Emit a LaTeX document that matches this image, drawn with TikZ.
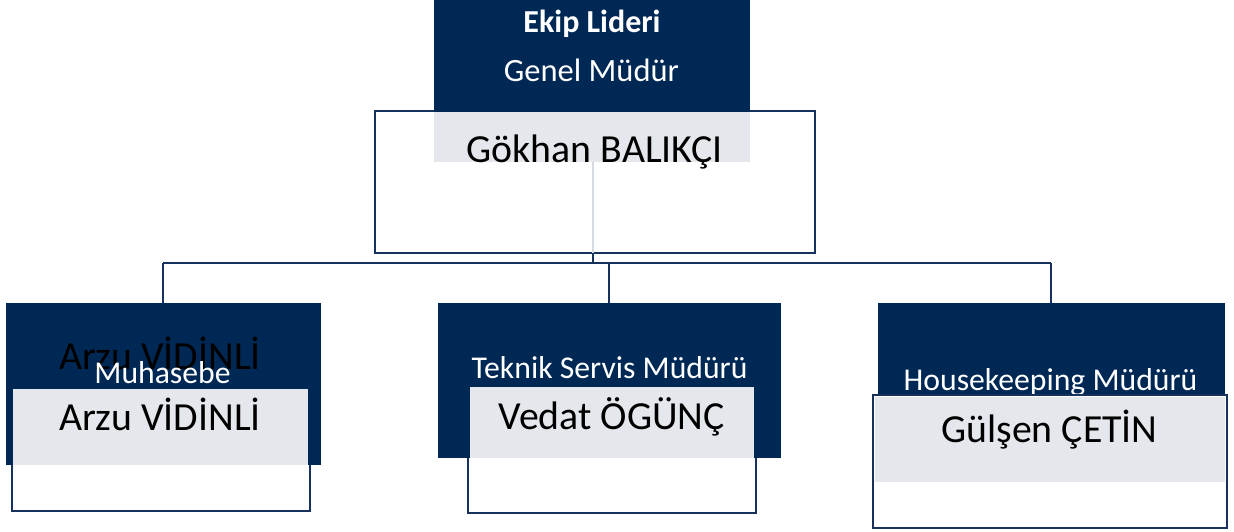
\documentclass[tikz,border=0pt]{standalone}
\usepackage{fontspec}
\setmainfont{Carlito}
\definecolor{navy}{RGB}{0,40,85}
\definecolor{paleg}{RGB}{228,231,236}
\definecolor{edge}{RGB}{22,50,92}
\definecolor{lgline}{RGB}{214,219,226}
\begin{document}
\begin{tikzpicture}[x=1pt,y=-1pt,
  darkbox/.style={fill=navy,draw=none,inner sep=0,outer sep=0,anchor=north west},
  greybox/.style={fill=paleg,draw=none,inner sep=0,outer sep=0,anchor=north west},
  outbox/.style={fill=white,draw=edge,line width=2.5pt,inner sep=0,outer sep=0,anchor=north west},
  titletext/.style={text=white,font=\fontsize{31.7}{31.7}\selectfont,anchor=base,inner sep=0},
  nametext/.style={text=black,font=\fontsize{39.8}{39.8}\selectfont,anchor=base,inner sep=0},
  conn/.style={draw=edge,line width=2.2pt},
  softline/.style={draw=lgline,line width=2.2pt}]
\useasboundingbox (0,0) rectangle (1234,532);
% ---------- top ----------
\node[outbox,minimum width=440pt,minimum height=142pt] (topout) at (375,111) {};
\node[darkbox,minimum width=316pt,minimum height=112pt] (topdark) at (434,0) {};
\node[greybox,minimum width=316pt,minimum height=50pt] (topgrey) at (434,112) {};
\node[text=white,font=\bfseries\fontsize{32}{32}\selectfont,anchor=base,inner sep=0] (lead) at (592,33) {Ekip Lideri};
\node[text=white,font=\fontsize{32.5}{32.5}\selectfont,anchor=base,inner sep=0] (gm) at (591.5,82) {Genel Müdür};
\node[nametext] (gokhan) at (594.5,163) {Gökhan BALIKÇI};
% ---------- bus ----------
\coordinate (j) at (593,263);
\coordinate (busL) at (163,263);
\coordinate (busR) at (1051,263);
\coordinate (busM) at (609,263);
\draw[softline] (topgrey.south -| j) -- (topout.south -| j);
\draw[conn] (topout.south -| j) -- (j);
\draw[conn] (busL) -- (busR);
% ---------- left ----------
\node[outbox,minimum width=298pt,minimum height=122pt] (lout) at (12,389) {};
\node[darkbox,minimum width=315pt,minimum height=162pt] (ldark) at (6,303) {};
\node[greybox,minimum width=295pt,minimum height=76pt] (lgrey) at (13,389) {};
\node[nametext] (arzu1) at (160,369) {Arzu VİDİNLİ};
\node[titletext] (muh) at (162.5,383) {Muhasebe};
\node[nametext] (arzu2) at (160,430) {Arzu VİDİNLİ};
% ---------- middle ----------
\node[outbox,minimum width=288pt,minimum height=126pt] (mout) at (468,387) {};
\node[darkbox,minimum width=343pt,minimum height=155pt] (mdark) at (438,303) {};
\node[greybox,minimum width=284pt,minimum height=71pt] (mgrey) at (470,387) {};
\node[titletext] (tek) at (609.5,378) {Teknik Servis Müdürü};
\node[nametext] (vedat) at (611.5,429) {Vedat ÖGÜNÇ};
% ---------- right ----------
\node[darkbox,minimum width=347pt,minimum height=92pt] (rdark) at (878,303) {};
\node[titletext] (hk) at (1050.5,390) {Housekeeping Müdürü};
\node[outbox,minimum width=354pt,minimum height=133pt] (rout) at (873,395) {};
\node[greybox,minimum width=350pt,minimum height=85pt] (rgrey) at (875,397) {};
\node[nametext] (gulsen) at (1049.5,442) {Gülşen ÇETİN};
% ---------- drops ----------
\draw[conn] (busL) -- (ldark.north -| busL);
\draw[conn] (busM) -- (mdark.north -| busM);
\draw[conn] (busR) -- (rdark.north -| busR);
\end{tikzpicture}
\end{document}
